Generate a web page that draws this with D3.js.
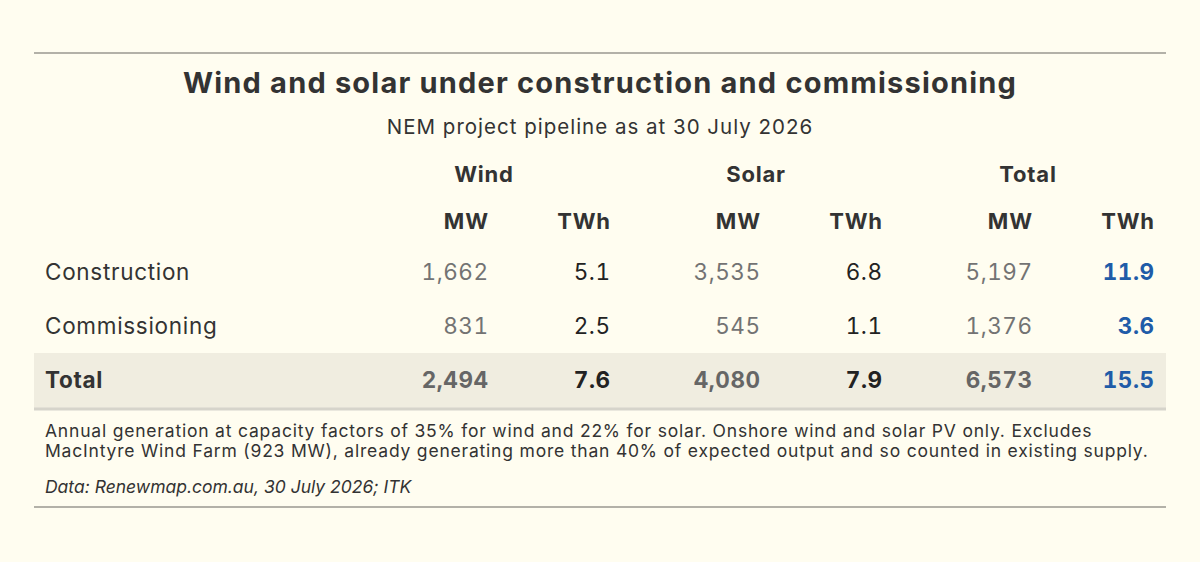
<!DOCTYPE html>
<html>
<head>
<meta charset="utf-8">
<script src="https://cdn.jsdelivr.net/npm/d3@7"></script>
<style>
  html, body { margin: 0; padding: 0; background: #fffdf0; }
  svg { display: block; font-family: Inter, "Noto Sans", sans-serif; }
  .num { font-variant-numeric: tabular-nums; font-feature-settings: "tnum" 1; }
</style>
</head>
<body>
<svg width="1200" height="562"></svg>
<script>
const title = 'Wind and solar under construction and commissioning';
const subtitle = 'NEM project pipeline as at 30 July 2026';
const groups = ['Wind', 'Solar', 'Total'];
const measures = ['MW', 'TWh'];
const rowLabels = ['Construction', 'Commissioning', 'Total'];
const windMW = [1662, 831, 2494];
const windTWh = [5.1, 2.5, 7.6];
const solarMW = [3535, 545, 4080];
const solarTWh = [6.8, 1.1, 7.9];
const totalMW = [5197, 1376, 6573];
const totalTWh = [11.9, 3.6, 15.5];
const notes = [
  'Annual generation at capacity factors of 35% for wind and 22% for solar. Onshore wind and solar PV only. Excludes',
  'MacIntyre Wind Farm (923 MW), already generating more than 40% of expected output and so counted in existing supply.'
];
const source = 'Data: Renewmap.com.au, 30 July 2026; ITK';

const values = {
  Wind: { MW: windMW, TWh: windTWh },
  Solar: { MW: solarMW, TWh: solarTWh },
  Total: { MW: totalMW, TWh: totalTWh }
};

const W = 1200, left = 34, right = 1166;
const svg = d3.select('svg');

// column positions: group scale then measure offset within group
const gx = d3.scalePoint().domain(groups).range([488, 1032]);
const mx = d3.scalePoint().domain(measures).range([0, 122]);
const y = d3.scalePoint().domain(rowLabels).range([272, 380]);

const fmtMW = d3.format(',');
const fmtTWh = d3.format('.1f');

svg.append('line')
    .attr('x1', left).attr('x2', right)
    .attr('y1', 53).attr('y2', 53)
    .attr('stroke', '#b3b1a8').attr('stroke-width', 2);

svg.append('text')
    .attr('x', W / 2).attr('y', 93)
    .attr('text-anchor', 'middle')
    .attr('font-size', 29).attr('font-weight', 700)
    .attr('letter-spacing', 1.2)
    .attr('fill', '#333')
    .text(title);

svg.append('text')
    .attr('x', W / 2).attr('y', 134)
    .attr('text-anchor', 'middle')
    .attr('font-size', 20.5)
    .attr('letter-spacing', 1)
    .attr('fill', '#333')
    .text(subtitle);

// total row band
const lastRow = rowLabels[rowLabels.length - 1];
svg.append('rect')
    .attr('x', left).attr('width', right - left)
    .attr('y', y(lastRow) - 27).attr('height', 55)
    .attr('fill', '#f0ede0');
svg.append('line')
    .attr('x1', left).attr('x2', right)
    .attr('y1', y(lastRow) + 29).attr('y2', y(lastRow) + 29)
    .attr('stroke', '#d6d4cb').attr('stroke-width', 3);

// group headers
svg.selectAll('.group')
  .data(groups)
  .enter()
  .append('text')
    .attr('class', 'group')
    .attr('x', d => gx(d) - 4)
    .attr('y', 182)
    .attr('text-anchor', 'middle')
    .attr('font-size', 22).attr('font-weight', 700)
    .attr('letter-spacing', 0.8)
    .attr('fill', '#333')
    .text(d => d);

// measure headers
const cols = groups.flatMap(g => measures.map(m => ({ g, m })));
svg.selectAll('.measure')
  .data(cols)
  .enter()
  .append('text')
    .attr('class', 'measure')
    .attr('x', d => gx(d.g) + mx(d.m))
    .attr('dx', 0.8)
    .attr('y', 229)
    .attr('text-anchor', 'end')
    .attr('font-size', 22).attr('font-weight', 700)
    .attr('letter-spacing', 0.8)
    .attr('fill', '#333')
    .text(d => d.m);

// row labels
svg.selectAll('.rowlabel')
  .data(rowLabels)
  .enter()
  .append('text')
    .attr('class', 'rowlabel')
    .attr('x', 45)
    .attr('y', d => y(d))
    .attr('dy', '0.35em')
    .attr('font-size', 22.5)
    .attr('letter-spacing', 0.7)
    .attr('font-weight', (d, i) => i === rowLabels.length - 1 ? 700 : 400)
    .attr('fill', '#333')
    .text(d => d);

// cells
const cells = cols.flatMap(c => rowLabels.map((r, i) => ({
  g: c.g, m: c.m, r, i, v: values[c.g][c.m][i]
})));
const isTotalRow = d => d.i === rowLabels.length - 1;
const isBlue = d => d.g === 'Total' && d.m === 'TWh';

svg.selectAll('.cell')
  .data(cells)
  .enter()
  .append('text')
    .attr('class', 'cell num')
    .attr('x', d => gx(d.g) + mx(d.m))
    .attr('dx', 0.5)
    .attr('y', d => y(d.r))
    .attr('dy', '0.35em')
    .attr('text-anchor', 'end')
    .attr('font-size', 22.5)
    .attr('letter-spacing', 0.5)
    .attr('font-weight', d => (isTotalRow(d) || isBlue(d)) ? 700 : 400)
    .attr('fill', d => {
      if (isBlue(d)) return '#1f5ca8';
      if (d.m === 'MW') return isTotalRow(d) ? '#666' : '#737373';
      return '#222';
    })
    .text(d => d.m === 'MW' ? fmtMW(d.v) : fmtTWh(d.v));

// notes
svg.selectAll('.note')
  .data(notes)
  .enter()
  .append('text')
    .attr('class', 'note')
    .attr('x', 45)
    .attr('y', (d, i) => 437 + i * 20)
    .attr('font-size', 17.5)
    .attr('letter-spacing', 0.8)
    .attr('fill', '#333')
    .text(d => d);

svg.append('text')
    .attr('x', 45).attr('y', 493)
    .attr('font-size', 17.5)
    .attr('font-style', 'italic')
    .attr('fill', '#333')
    .text(source);

svg.append('line')
    .attr('x1', left).attr('x2', right)
    .attr('y1', 507).attr('y2', 507)
    .attr('stroke', '#b3b1a8').attr('stroke-width', 2);
</script>
</body>
</html>
